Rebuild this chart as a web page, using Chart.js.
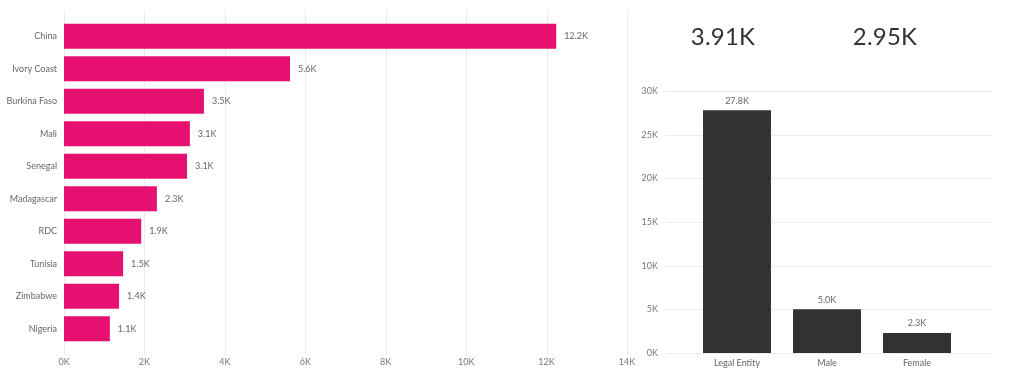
<!DOCTYPE html>
<html>
<head>
<meta charset="utf-8">
<script src="https://cdn.jsdelivr.net/npm/chart.js@4/dist/chart.umd.min.js"></script>
<style>
  html, body { margin: 0; padding: 0; background: #fff; }
  #wrap { position: relative; width: 1024px; height: 383px; overflow: hidden; }
  #leftBox { position: absolute; left: 0; top: 0; width: 640px; height: 383px; }
  #rightBox { position: absolute; left: 630px; top: 0; width: 394px; height: 383px; }
  .card { position: absolute; top: 21px; font-family: Lato, sans-serif; font-size: 24px; color: #333; transform: translateX(-50%); letter-spacing: 0.2px; }
</style>
</head>
<body>
<div id="wrap">
  <div id="leftBox"><canvas id="countryChart"></canvas></div>
  <div id="rightBox"><canvas id="typeChart"></canvas></div>
  <div class="card" style="left:723px">3.91K</div>
  <div class="card" style="left:885px">2.95K</div>
</div>
<script>
const countries = ['China', 'Ivory Coast', 'Burkina Faso', 'Mali', 'Senegal', 'Madagascar', 'RDC', 'Tunisia', 'Zimbabwe', 'Nigeria'];
const countryValues = [12240, 5620, 3480, 3130, 3060, 2310, 1920, 1470, 1370, 1140];
const countryTicks = [0, 2000, 4000, 6000, 8000, 10000, 12000, 14000];

const holderTypes = ['Legal Entity', 'Male', 'Female'];
const holderValues = [27800, 5000, 2300];
const holderTicks = [0, 5000, 10000, 15000, 20000, 25000, 30000];

const PINK = '#E5106F';
const DARK = '#333132';
const GRID = '#ebebeb';
const TICK_COLOR = '#777';
const FONT = 'Lato, "Open Sans", sans-serif';

function fmtK(v) {
  return (v / 1000).toFixed(1) + 'K';
}

// fixed axis size, and no extra room for overhanging labels
function fixSize(w, h) {
  return s => {
    if (w != null) s.width = w;
    if (h != null) s.height = h;
    s.paddingLeft = 0;
    s.paddingRight = 0;
    s.paddingTop = 0;
    s.paddingBottom = 0;
  };
}

// grid lines that run a bit past the plot area, drawn behind the bars
const extendedGrid = {
  id: 'extendedGrid',
  beforeDatasetsDraw(chart, args, opts) {
    const ctx = chart.ctx;
    const area = chart.chartArea;
    const scale = chart.scales[opts.axis];
    ctx.save();
    ctx.strokeStyle = GRID;
    ctx.lineWidth = 1;
    scale.ticks.forEach(t => {
      const p = Math.round(scale.getPixelForValue(t.value)) + 0.5;
      ctx.beginPath();
      if (opts.axis === 'x') {
        ctx.moveTo(p, area.top - opts.top);
        ctx.lineTo(p, area.bottom + opts.bottom);
      } else {
        ctx.moveTo(area.left - opts.left, p);
        ctx.lineTo(area.right + opts.right, p);
      }
      ctx.stroke();
    });
    ctx.restore();
  }
};

const valueLabels = {
  id: 'valueLabels',
  afterDatasetsDraw(chart, args, opts) {
    const ctx = chart.ctx;
    const meta = chart.getDatasetMeta(0);
    const data = chart.data.datasets[0].data;
    ctx.save();
    ctx.font = '9px ' + FONT;
    ctx.fillStyle = '#666';
    meta.data.forEach((bar, i) => {
      if (opts.horizontal) {
        ctx.textAlign = 'left';
        ctx.textBaseline = 'middle';
        ctx.fillText(fmtK(data[i]), bar.x + 8, bar.y);
      } else {
        ctx.textAlign = 'center';
        ctx.textBaseline = 'bottom';
        ctx.fillText(fmtK(data[i]), bar.x, bar.y - 5);
      }
    });
    ctx.restore();
  }
};

new Chart(document.getElementById('countryChart'), {
  type: 'bar',
  data: {
    labels: countries,
    datasets: [{
      data: countryValues,
      backgroundColor: PINK,
      barPercentage: 0.77,
      categoryPercentage: 1
    }]
  },
  options: {
    indexAxis: 'y',
    responsive: true,
    maintainAspectRatio: false,
    animation: false,
    layout: { padding: { top: 20, right: 13, left: 0, bottom: 0 } },
    plugins: {
      legend: { display: false },
      tooltip: { enabled: false },
      extendedGrid: { axis: 'x', top: 10, bottom: 10 },
      valueLabels: { horizontal: true }
    },
    scales: {
      x: {
        min: 0,
        max: 14000,
        afterBuildTicks: s => { s.ticks = countryTicks.map(v => ({ value: v })); },
        afterFit: fixSize(null, 38),
        grid: { display: false, drawTicks: false },
        border: { display: false },
        ticks: {
          padding: 12,
          color: TICK_COLOR,
          font: { family: FONT, size: 9 },
          maxRotation: 0,
          callback: v => (v / 1000) + 'K'
        }
      },
      y: {
        afterFit: fixSize(64, null),
        grid: { display: false, drawTicks: false },
        border: { display: false },
        ticks: {
          padding: 7,
          color: '#666',
          font: { family: FONT, size: 9 }
        }
      }
    }
  },
  plugins: [extendedGrid, valueLabels]
});

new Chart(document.getElementById('typeChart'), {
  type: 'bar',
  data: {
    labels: holderTypes,
    datasets: [{
      data: holderValues,
      backgroundColor: DARK,
      barPercentage: 0.755,
      categoryPercentage: 1
    }]
  },
  options: {
    responsive: true,
    maintainAspectRatio: false,
    animation: false,
    layout: { padding: { top: 91, right: 62, left: 0, bottom: 0 } },
    plugins: {
      legend: { display: false },
      tooltip: { enabled: false },
      extendedGrid: { axis: 'y', left: 26, right: 30 },
      valueLabels: { horizontal: false }
    },
    scales: {
      x: {
        afterFit: fixSize(null, 30),
        grid: { display: false, drawTicks: false },
        border: { display: false },
        ticks: {
          padding: 5,
          color: '#666',
          font: { family: FONT, size: 9 },
          maxRotation: 0
        }
      },
      y: {
        min: 0,
        max: 30000,
        afterBuildTicks: s => { s.ticks = holderTicks.map(v => ({ value: v })); },
        afterFit: fixSize(62, null),
        grid: { display: false, drawTicks: false },
        border: { display: false },
        ticks: {
          padding: 34,
          color: TICK_COLOR,
          font: { family: FONT, size: 9 },
          callback: v => (v / 1000) + 'K'
        }
      }
    }
  },
  plugins: [extendedGrid, valueLabels]
});
</script>
</body>
</html>
